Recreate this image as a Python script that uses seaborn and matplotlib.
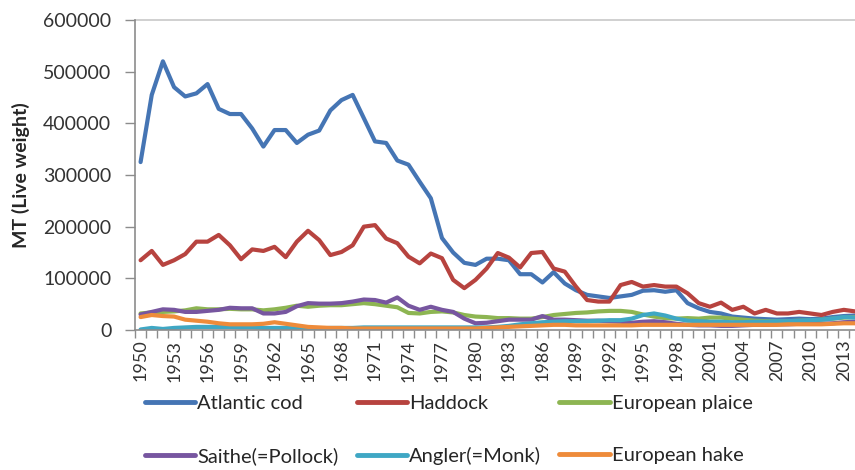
import numpy as np
import pandas as pd
import matplotlib
matplotlib.use("Agg")
import matplotlib.pyplot as plt
import seaborn as sns
from matplotlib.ticker import FixedLocator

years = list(range(1950, 2015))

atlantic_cod = [325000, 455000, 520000, 470000, 452000, 458000, 476000, 428000, 418000, 418000,
                390000, 355000, 387000, 387000, 362000, 378000, 386000, 425000, 445000, 455000,
                410000, 365000, 362000, 328000, 320000, 287000, 255000, 178000, 150000, 130000,
                126000, 138000, 138000, 135000, 108000, 108000, 92000, 112000, 90000, 77000,
                68000, 65000, 62000, 65000, 68000, 76000, 77000, 74000, 77000, 52000,
                42000, 35000, 32000, 26000, 24000, 22000, 21000, 20000, 21000, 22000,
                21000, 22000, 25000, 27000, 28000]
haddock = [135000, 153000, 126000, 135000, 147000, 171000, 171000, 184000, 164000, 137000,
           156000, 153000, 161000, 141000, 171000, 192000, 174000, 145000, 151000, 164000,
           200000, 203000, 177000, 168000, 142000, 129000, 148000, 139000, 97000, 81000,
           97000, 119000, 149000, 140000, 121000, 149000, 151000, 119000, 113000, 84000,
           58000, 55000, 55000, 87000, 93000, 84000, 87000, 84000, 84000, 71000,
           52000, 45000, 53000, 39000, 45000, 32000, 39000, 32000, 32000, 35000,
           32000, 29000, 35000, 39000, 36000]
european_plaice = [32000, 34000, 35000, 36000, 38000, 42000, 40000, 40000, 41000, 40000,
                   40000, 38000, 40000, 43000, 47000, 45000, 47000, 48000, 48000, 50000,
                   52000, 50000, 47000, 44000, 33000, 32000, 35000, 36000, 34000, 29000,
                   26000, 25000, 23000, 23000, 22000, 22000, 25000, 29000, 31000, 33000,
                   34000, 36000, 37000, 37000, 35000, 30000, 26000, 23000, 22000, 23000,
                   22000, 24000, 24000, 22000, 20000, 18000, 17000, 17000, 17000, 18000,
                   18000, 20000, 22000, 24000, 25000]
saithe = [30000, 35000, 40000, 39000, 35000, 35000, 37000, 39000, 43000, 42000,
          42000, 32000, 32000, 35000, 46000, 52000, 51000, 51000, 52000, 55000,
          59000, 58000, 53000, 63000, 47000, 39000, 45000, 39000, 35000, 22000,
          13000, 14000, 17000, 20000, 20000, 20000, 27000, 20000, 20000, 19000,
          18000, 18000, 17000, 16000, 14000, 16000, 17000, 15000, 12000, 10000,
          9000, 9000, 8000, 8000, 9000, 10000, 10000, 11000, 11000, 12000,
          12000, 12000, 13000, 15000, 16000]
angler = [1000, 4000, 2000, 4000, 5000, 6000, 6000, 6000, 6000, 5000,
          5000, 4000, 4000, 4000, 3000, 3000, 3000, 4000, 4000, 4000,
          5000, 5000, 5000, 5000, 5000, 5000, 5000, 5000, 5000, 5000,
          5000, 5000, 6000, 8000, 11000, 13000, 15000, 16000, 17000, 17000,
          17000, 18000, 19000, 19000, 22000, 29000, 32000, 28000, 22000, 18000,
          17000, 16000, 16000, 15000, 15000, 16000, 16000, 17000, 17000, 18000,
          19000, 20000, 22000, 25000, 24000]
european_hake = [25000, 29000, 27000, 26000, 20000, 18000, 16000, 13000, 11000, 11000,
                 11000, 12000, 15000, 12000, 9000, 6000, 5000, 4000, 4000, 3000,
                 3000, 3000, 3000, 3000, 3000, 3000, 3000, 3000, 3000, 3000,
                 3000, 4000, 5000, 6000, 7000, 8000, 9000, 10000, 10000, 9000,
                 9000, 9000, 9000, 9000, 9000, 10000, 10000, 10000, 10000, 10000,
                 10000, 10000, 10000, 10000, 10000, 10000, 10000, 10000, 11000, 11000,
                 11000, 11000, 12000, 13000, 13000]

series_names = ["Atlantic cod", "Haddock", "European plaice",
                "Saithe(=Pollock)", "Angler(=Monk)", "European hake"]
series_values = [atlantic_cod, haddock, european_plaice, saithe, angler, european_hake]
colors = ["#4575B4", "#B7433F", "#8DB552", "#7756A0", "#3FA7C4", "#EE8B3A"]

frames = []
for name, vals in zip(series_names, series_values):
    frames.append(pd.DataFrame({"Year": years, "Value": vals, "Species": name}))
df = pd.concat(frames, ignore_index=True)

sns.set_style("white")
plt.rcParams["font.family"] = ["Lato", "DejaVu Sans"]

fig = plt.figure(figsize=(8.55, 4.70), dpi=100)
ax = fig.add_axes([135 / 855, 1 - 330 / 470, 1 - 135 / 855, (330 - 20) / 470])

sns.lineplot(data=df, x="Year", y="Value", hue="Species", hue_order=series_names,
             palette=colors, linewidth=3.0, ax=ax, legend=False, sort=False,
             solid_capstyle="round", solid_joinstyle="round")

ax.set_xlim(1949.5, 2014.0)
ax.set_ylim(0, 600000)
ax.axhline(600000, color="#c8c8c8", lw=1.2, zorder=0, clip_on=False)

yticks = list(range(0, 600001, 100000))
ax.set_yticks(yticks)
ax.set_yticklabels([str(v) for v in yticks], fontsize=14, color="#333333")

label_years = list(range(1950, 2015, 3))
ax.xaxis.set_major_locator(FixedLocator(label_years))
ax.set_xticklabels([str(y) for y in label_years], rotation=90, fontsize=13, color="#333333")
ax.xaxis.set_minor_locator(FixedLocator([y + 0.5 for y in range(1949, 2014)]))
ax.tick_params(axis="x", which="major", length=0, pad=7)
ax.tick_params(axis="x", which="minor", length=6, width=1, color="#8c8c8c", direction="out", bottom=True)
ax.tick_params(axis="y", which="major", length=7, width=1, color="#8c8c8c", direction="out", left=True, pad=10)

for s in ["top", "right"]:
    ax.spines[s].set_visible(False)
for s in ["left", "bottom"]:
    ax.spines[s].set_color("#8c8c8c")
    ax.spines[s].set_linewidth(1.2)

ax.set_xlabel("")
ax.set_ylabel("MT (Live weight)", fontsize=14, fontweight="bold")
ax.yaxis.set_label_coords((30 - 135) / 720, 0.5)

handles = [plt.Line2D([], [], color=c, lw=3.5) for c in colors]
order = [0, 3, 1, 4, 2, 5]
fig.legend([handles[i] for i in order], [series_names[i] for i in order],
           ncol=3, loc="upper left", bbox_to_anchor=(145 / 855, 1 - 395 / 470),
           frameon=False, fontsize=14.5, handlelength=2.5, handletextpad=0.1,
           columnspacing=0.9, labelspacing=1.75, borderaxespad=0, borderpad=0)

fig.savefig("out.png", dpi=100)
